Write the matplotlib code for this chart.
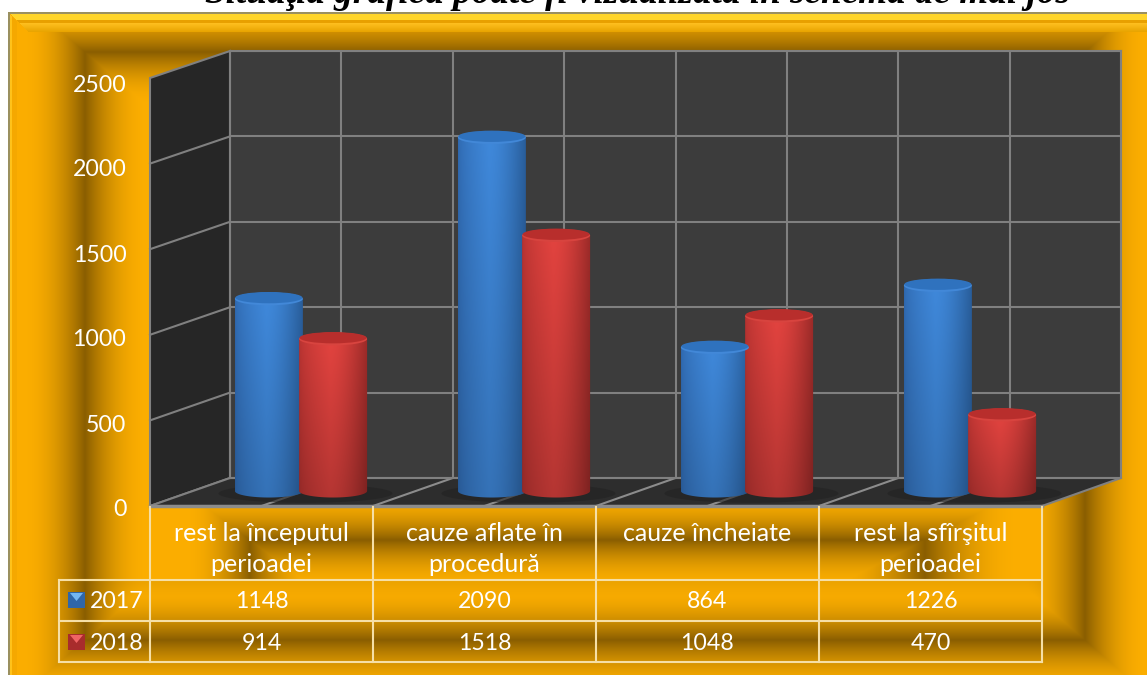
import numpy as np
import matplotlib
matplotlib.use('Agg')
import matplotlib.pyplot as plt
from matplotlib.patches import Polygon, Ellipse

plt.rcParams['font.family'] = ['Lato', 'DejaVu Sans']

title = 'Situaţia grafică poate fi vizualizată în schema de mai jos'
categories = ['rest la începutul\nperioadei', 'cauze aflate în\nprocedură',
              'cauze încheiate', 'rest la sfîrşitul\nperioadei']
series_names = ['2017', '2018']
values_2017 = [1148, 2090, 864, 1226]
values_2018 = [914, 1518, 1048, 470]
y_ticks = [0, 500, 1000, 1500, 2000, 2500]

W, H = 1147, 675
fig = plt.figure(figsize=(W / 100, H / 100), dpi=100)


def px_axes(x0, y0, x1, y1, z):
    a = fig.add_axes([x0 / W, 1 - y1 / H, (x1 - x0) / W, (y1 - y0) / H])
    a.set_zorder(z)
    return a


def lerp(c1, c2, t):
    c1 = np.array(matplotlib.colors.to_rgb(c1))
    c2 = np.array(matplotlib.colors.to_rgb(c2))
    return c1 + (c2 - c1) * t[..., None]


def ramp(d):
    u = np.clip(np.abs(d), 0, 1)
    return 1 - (1 - u) ** 2


### gold picture frame ###
xx, yy = np.meshgrid(np.arange(W) + 0.5, np.arange(H) + 0.5)
s = np.max([(85 - xx) / 62, (xx - 1085) / 62, (52 - yy) / 53, (yy - 640) / 54], axis=0)
b = ramp(s)
s2 = np.max([(250 - xx) / 64, (xx - 925) / 94, (540 - yy) / 48, (yy - 700) / 120], axis=0)
b2 = ramp(s2)
head = (xx > 150) & (xx < 1042) & (yy > 506) & (yy < 580)
b[head] = b2[head]
row_a = (xx > 59) & (xx < 1042) & (yy >= 580) & (yy < 597)
b[row_a] *= 0.85 + 0.15 * (yy[row_a] - 580) / 17
frame = lerp('#8a5e00', '#ffb000', b * 0.97)

# bevel stripes along the outer edge
top = (yy < 32) & (xx > yy - 4)
frame[top] = lerp('#ffc020', '#e8a400', (yy[top] - 23) / 9)
frame[(yy < 23) & (xx > yy - 4)] = np.array(matplotlib.colors.to_rgb('#e8a000'))
frame[(yy < 20) & (xx > yy - 4)] = np.array(matplotlib.colors.to_rgb('#ffd52a'))
left = (xx < 17) & (yy > xx + 4)
frame[left] = np.array(matplotlib.colors.to_rgb('#f5a800'))
frame[(xx < 12) & (yy > xx + 4)] = np.array(matplotlib.colors.to_rgb('#ffc21a'))
frame[yy < 14] = np.array(matplotlib.colors.to_rgb('#9a9060'))
frame[xx < 10] = np.array(matplotlib.colors.to_rgb('#9a9060'))
frame[yy < 12] = 1
frame[xx < 8] = 1

bg = px_axes(0, 0, W, H, 0)
bg.imshow(frame, extent=(0, W, H, 0), aspect='auto', interpolation='nearest')
bg.set_xlim(0, W)
bg.set_ylim(H, 0)
bg.axis('off')

### walls and floor ###
grid_col = '#808080'
bg.add_patch(Polygon([(150, 78), (230, 51), (230, 478), (150, 506)], fc='#262626', ec=grid_col, lw=1.5))
bg.add_patch(Polygon([(150, 506), (230, 478), (1121, 478), (1042, 506)], fc='#2d2d2d', ec=grid_col, lw=1.5))
for t in y_ticks[1:-1]:
    f = t / y_ticks[-1]
    bg.plot([150, 230], [506 - 428 * f, 478 - 427 * f], color=grid_col, lw=1.5)
for k in np.arange(0, 4.5, 0.5)[1:-1]:
    bg.plot([150 + 223 * k, 230 + 222.75 * k], [506, 478], color='#8c8c8c', lw=1.5)
bg.plot([150, 1042], [506, 506], color='#8c8c8c', lw=2.5)

ax_back = px_axes(230, 51, 1121, 478, 1)
ax_back.set_facecolor('#3c3c3c')
ax_back.set_xlim(0, 4)
ax_back.set_ylim(0, y_ticks[-1])
ax_back.set_xticks(np.arange(0, 4.5, 0.5))
ax_back.set_yticks(y_ticks)
ax_back.grid(True, color=grid_col, lw=1.5)
ax_back.tick_params(length=0, labelleft=False, labelbottom=False)
for sp in ax_back.spines.values():
    sp.set_color(grid_col)
    sp.set_linewidth(1.5)

### cylinders ###
# perspective: value 0 falls at y=495.5 in the bars' plane, the round base stands a bit above it
ax = px_axes(189.5, 67.25, 1081.5, 512.6, 3)
ax.patch.set_alpha(0)
ax.axis('off')
bar_w = 0.305
off = 0.144
cap = 38
base = 26


def cylinder(c, v, mid, edge_l, edge_r, top_c, rim, dark):
    x0, x1 = c - bar_w / 2, c + bar_w / 2
    t = np.linspace(0, 1, 80)
    row = np.where(t[:, None] < 0.45,
                   lerp(edge_l, mid, np.clip(t / 0.45, 0, 1) ** 0.6),
                   lerp(mid, edge_r, np.clip((t - 0.45) / 0.55, 0, 1) ** 1.6))
    v_t = np.linspace(0, 1, 60)[:, None, None]
    img = row[None, :, :] * (1 - v_t) + row[None, :, :] * dark * v_t
    th = np.linspace(np.pi, 2 * np.pi, 40)
    verts = [(c + bar_w / 2 * np.cos(a), base + cap * np.sin(a)) for a in th] + [(x1, v), (x0, v)]
    clip = Polygon(verts, transform=ax.transData)
    # row 0 of the array is the top of the bar
    im = ax.imshow(img, extent=(x0, x1, base - cap, v), aspect='auto', origin='upper', zorder=2)
    im.set_clip_path(clip)
    ax.add_patch(Ellipse((c, v), bar_w, 2 * cap, fc=rim, ec='none', zorder=3))
    ax.add_patch(Ellipse((c, v + 7), bar_w * 0.985, 2 * cap - 10, fc=top_c, ec='none', zorder=3))


for i in range(len(categories)):
    ax.add_patch(Ellipse((i + 0.02, 12), 0.78, 110, fc='#222222', ec='none', alpha=0.6, zorder=1))
    cylinder(i - off, values_2017[i], '#3f88da', '#2f68ae', '#285c98', '#2f72be', '#4288d8', 0.84)
    cylinder(i + off, values_2018[i], '#e2433f', '#b43230', '#9a2a28', '#b82e2c', '#d8443f', 0.8)
ax.set_xlim(-0.5, 3.5)
ax.set_ylim(-100, y_ticks[-1])

### value axis on the front edge ###
ax_front = px_axes(150, 83, 1042, 508, 4)
ax_front.patch.set_alpha(0)
ax_front.set_ylim(0, y_ticks[-1])
ax_front.set_yticks(y_ticks)
ax_front.set_xticks([])
ax_front.tick_params(axis='y', length=0, pad=17, labelsize=16.7, labelcolor='white')
for sp in ax_front.spines.values():
    sp.set_visible(False)

### data table ###
line_col = '#f6dfa6'
col_x = [150, 373, 596, 819, 1042]
row_y = [580, 621, 662]
for x in col_x:
    bg.plot([x, x], [507, row_y[-1]], color=line_col, lw=1.5)
bg.plot([59, 59], [row_y[0], row_y[-1]], color=line_col, lw=1.5)
for y in row_y:
    bg.plot([59, 1042], [y, y], color=line_col, lw=1.5)

for i, cat in enumerate(categories):
    cx = (col_x[i] + col_x[i + 1]) / 2
    bg.text(cx, 522, cat, color='white', fontsize=18, ha='center', va='top', linespacing=1.42)
    bg.text(cx, 602, str(values_2017[i]), color='white', fontsize=16.7, ha='center', va='center')
    bg.text(cx, 644, str(values_2018[i]), color='white', fontsize=16.7, ha='center', va='center')

key_cols = [('#2f66a8', '#73b6f2'), ('#a82c2c', '#f06464')]
for name, y, (dark, light) in zip(series_names, [600, 642], key_cols):
    bg.add_patch(Polygon([(68, y - 8), (85, y - 8), (85, y + 8), (68, y + 8)], fc=dark, ec='none'))
    bg.add_patch(Polygon([(70, y - 7), (83, y - 7), (76.5, y + 1)], fc=light, ec='none'))
    bg.text(90, y + 2, name, color='white', fontsize=16.7, ha='left', va='center')

fig.text(637.5 / W, 1 - 3 / H, title, family=['Liberation Serif'], fontsize=26.7, fontweight='bold',
         fontstyle='italic', color='black', ha='center', va='baseline')

plt.savefig('out.png', dpi=100)
plt.close()
